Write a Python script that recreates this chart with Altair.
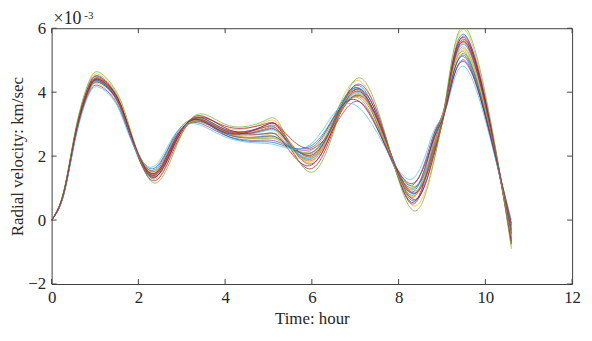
import altair as alt
import pandas as pd

# key sample times (hour)
times = [0, 0.28, 0.56, 0.85, 1.1, 1.48, 1.8, 2.3, 2.8, 3.35, 4.1, 4.9, 5.3,
         5.95, 6.55, 7.1, 7.7, 8.33, 8.8, 9.1, 9.52, 10.15, 10.6]

# radial velocity (x 1e-3 km/sec), one list per curve
c1 = [0, 0.86, 2.8, 4.2, 4.5, 3.95, 2.8, 1.35, 2.3, 3.2, 2.8, 2.9, 2.7, 1.9, 3.2, 4.2, 2.5, 0.6, 2.0, 3.8, 5.8, 2.7, -0.6]
c2 = [0, 0.84, 2.7, 4.0, 4.3, 3.8, 2.7, 1.5, 2.45, 3.1, 2.65, 2.6, 2.5, 2.1, 3.1, 3.85, 2.4, 0.95, 2.5, 3.6, 5.2, 2.5, -0.3]
c3 = [0, 0.9, 2.85, 4.25, 4.55, 4.0, 2.85, 1.3, 2.2, 3.25, 2.85, 3.05, 2.85, 1.8, 3.3, 4.35, 2.6, 0.45, 1.8, 3.85, 5.95, 2.8, -0.8]
c4 = [0, 0.8, 2.65, 3.95, 4.2, 3.7, 2.65, 1.55, 2.5, 3.05, 2.6, 2.5, 2.4, 2.2, 3.0, 3.7, 2.3, 1.1, 2.65, 3.55, 5.0, 2.45, -0.15]
c5 = [0, 0.87, 2.78, 4.15, 4.42, 3.9, 2.8, 1.4, 2.3, 3.18, 2.75, 2.8, 2.65, 1.95, 3.2, 4.05, 2.45, 0.75, 2.25, 3.75, 5.5, 2.65, -0.5]
c6 = [0, 0.83, 2.72, 4.08, 4.35, 3.82, 2.72, 1.45, 2.4, 3.12, 2.7, 2.7, 2.55, 2.0, 3.15, 3.95, 2.5, 0.85, 2.1, 3.65, 5.4, 2.55, -0.4]
c7 = [0, 0.88, 2.8, 4.12, 4.4, 3.88, 2.78, 1.25, 2.15, 3.2, 2.9, 3.0, 2.75, 1.6, 3.0, 4.1, 2.55, 0.55, 2.4, 3.8, 5.65, 2.75, -0.7]
c8 = [0, 0.82, 2.68, 4.05, 4.3, 3.8, 2.7, 1.6, 2.55, 3.15, 2.6, 2.45, 2.35, 2.3, 3.35, 4.1, 2.3, 1.0, 2.2, 3.6, 5.1, 2.4, -0.2]
c9 = [0, 0.85, 2.76, 4.1, 4.4, 3.85, 2.75, 1.38, 2.32, 3.1, 2.75, 2.85, 2.7, 1.85, 3.05, 3.9, 2.55, 0.7, 2.6, 3.7, 5.6, 2.6, -0.55]
c10 = [0, 0.86, 2.75, 4.05, 4.25, 3.75, 2.75, 1.48, 2.4, 3.2, 2.7, 2.65, 2.6, 2.05, 3.2, 4.0, 2.4, 0.9, 2.0, 3.65, 5.3, 2.55, -0.35]
c11 = [0, 0.84, 2.8, 4.18, 4.48, 3.9, 2.7, 1.32, 2.28, 3.22, 2.78, 2.95, 2.8, 1.75, 3.1, 4.25, 2.6, 0.5, 2.3, 3.75, 5.75, 2.8, -0.65]
c12 = [0, 0.86, 2.7, 4.02, 4.32, 3.86, 2.8, 1.52, 2.42, 3.08, 2.68, 2.55, 2.45, 2.15, 3.25, 3.8, 2.35, 1.05, 2.15, 3.7, 5.25, 2.5, -0.25]
c13 = [0, 0.85, 2.74, 4.12, 4.36, 3.84, 2.76, 1.4, 2.35, 3.16, 2.74, 2.78, 2.62, 1.92, 3.12, 3.98, 2.48, 0.78, 2.45, 3.72, 5.48, 2.62, -0.48]
c14 = [0, 0.87, 2.82, 4.14, 4.44, 3.92, 2.78, 1.36, 2.25, 3.26, 2.82, 2.7, 2.5, 1.7, 3.05, 3.9, 2.5, 0.65, 1.95, 3.8, 5.7, 2.7, -0.75]
c15 = [0, 0.83, 2.69, 4.06, 4.34, 3.82, 2.74, 1.46, 2.38, 3.12, 2.66, 2.62, 2.48, 2.08, 3.22, 4.12, 2.4, 0.88, 2.55, 3.62, 5.15, 2.48, -0.32]
c16 = [0, 0.85, 2.77, 4.09, 4.39, 3.86, 2.74, 1.42, 2.36, 3.14, 2.76, 2.9, 2.78, 1.98, 3.18, 4.08, 2.45, 0.82, 2.15, 3.68, 5.55, 2.58, -0.45]
c17 = [0, 0.86, 2.76, 4.11, 4.41, 3.87, 2.76, 1.44, 2.37, 3.13, 2.7, 2.58, 2.42, 1.88, 3.08, 3.92, 2.42, 0.72, 2.35, 3.74, 5.35, 2.6, -0.52]
c18 = [0, 0.84, 2.73, 4.07, 4.37, 3.83, 2.77, 1.41, 2.34, 3.17, 2.73, 2.82, 2.68, 2.02, 3.14, 4.02, 2.52, 0.84, 2.05, 3.66, 5.58, 2.64, -0.42]
c19 = [0, 0.9, 2.9, 4.3, 4.62, 4.05, 2.9, 1.2, 2.05, 3.3, 2.95, 3.1, 2.9, 1.5, 2.95, 4.45, 2.65, 0.3, 1.75, 3.9, 6.05, 2.9, -0.9]
c20 = [0, 0.78, 2.6, 3.9, 4.15, 3.65, 2.6, 1.65, 2.6, 3.0, 2.55, 2.4, 2.3, 2.35, 3.4, 3.5, 2.25, 1.3, 2.75, 3.5, 4.8, 2.35, 0.0]
c21 = [0, 0.85, 2.75, 4.1, 4.4, 3.9, 2.8, 1.45, 2.4, 3.15, 2.7, 2.95, 2.85, 2.25, 3.3, 3.7, 2.3, 1.15, 2.5, 3.55, 4.95, 2.45, -0.1]

curves = [c1, c2, c3, c4, c5, c6, c7, c8, c9, c10, c11, c12, c13, c14, c15,
          c16, c17, c18, c19, c20, c21]

x_ticks = [0, 2, 4, 6, 8, 10, 12]
y_ticks = [-2, 0, 2, 4, 6]

matlab_colors = ["#0072BD", "#D95319", "#EDB120", "#7E2F8E", "#77AC30",
                 "#4DBEEE", "#A2142F"]

rows = []
for i, c in enumerate(curves):
    for t, v in zip(times, c):
        rows.append({"curve": f"k{i:02d}", "t": t, "v": v})
df = pd.DataFrame(rows)

W, H = 525, 258
FONT = "Liberation Serif"
AX = "#404040"
TXT = "#262626"

xs = alt.Scale(domain=[0, 12], nice=False, zero=False)
ys = alt.Scale(domain=[-2, 6], nice=False, zero=False)
xaxis = alt.Axis(values=x_ticks, title="Time: hour", ticks=False, domain=False,
                 grid=False, labelPadding=6, titlePadding=5, labelFlush=False,
                 labelFont=FONT, titleFont=FONT, labelFontSize=17, titleFontSize=17,
                 labelColor=TXT, titleColor=TXT, titleFontWeight="normal")
yaxis = alt.Axis(values=y_ticks, title="Radial velocity: km/sec", ticks=False,
                 domain=False, grid=False, labelPadding=6, labelFlush=False,
                 titleX=-29, titleY=H / 2, titleAngle=270, titleAlign="center",
                 titleBaseline="alphabetic",
                 labelFont=FONT, titleFont=FONT, labelFontSize=17, titleFontSize=17,
                 labelColor=TXT, titleColor=TXT, titleFontWeight="normal")

lines = alt.Chart(df).mark_line(interpolate="natural", strokeWidth=0.9,
                                opacity=0.8, clip=True).encode(
    x=alt.X("t:Q", scale=xs, axis=xaxis),
    y=alt.Y("v:Q", scale=ys, axis=yaxis),
    color=alt.Color("curve:N", scale=alt.Scale(range=matlab_colors), legend=None),
    detail="curve:N",
)

xt = pd.DataFrame({"t": x_ticks})
yt = pd.DataFrame({"v": y_ticks})

xt_bottom = alt.Chart(xt).mark_rule(color=AX, strokeWidth=1).encode(
    x=alt.X("t:Q", scale=xs, axis=xaxis), y=alt.value(H), y2=alt.value(H - 5))
xt_top = alt.Chart(xt).mark_rule(color=AX, strokeWidth=1).encode(
    x=alt.X("t:Q", scale=xs, axis=xaxis), y=alt.value(0), y2=alt.value(5))
yt_left = alt.Chart(yt).mark_rule(color=AX, strokeWidth=1).encode(
    y=alt.Y("v:Q", scale=ys, axis=yaxis), x=alt.value(0), x2=alt.value(5))
yt_right = alt.Chart(yt).mark_rule(color=AX, strokeWidth=1).encode(
    y=alt.Y("v:Q", scale=ys, axis=yaxis), x=alt.value(W), x2=alt.value(W - 5))

exp_base = alt.Chart(pd.DataFrame({"s": ["×10"]})).mark_text(
    font=FONT, fontSize=18, color=TXT, align="left", baseline="alphabetic").encode(
    text="s:N", x=alt.value(2), y=alt.value(-4))
exp_sup = alt.Chart(pd.DataFrame({"s": ["-3"]})).mark_text(
    font=FONT, fontSize=11, color=TXT, align="left", baseline="alphabetic").encode(
    text="s:N", x=alt.value(33), y=alt.value(-9))

chart = alt.layer(lines, xt_bottom, xt_top, yt_left, yt_right, exp_base, exp_sup).properties(
    width=W, height=H, autosize="none", background="white",
    padding={"left": 44, "top": 19, "right": 12, "bottom": 48},
).configure_view(stroke=AX, strokeWidth=1)

chart.save("out.html", embed_options={"renderer": "svg", "actions": False})
